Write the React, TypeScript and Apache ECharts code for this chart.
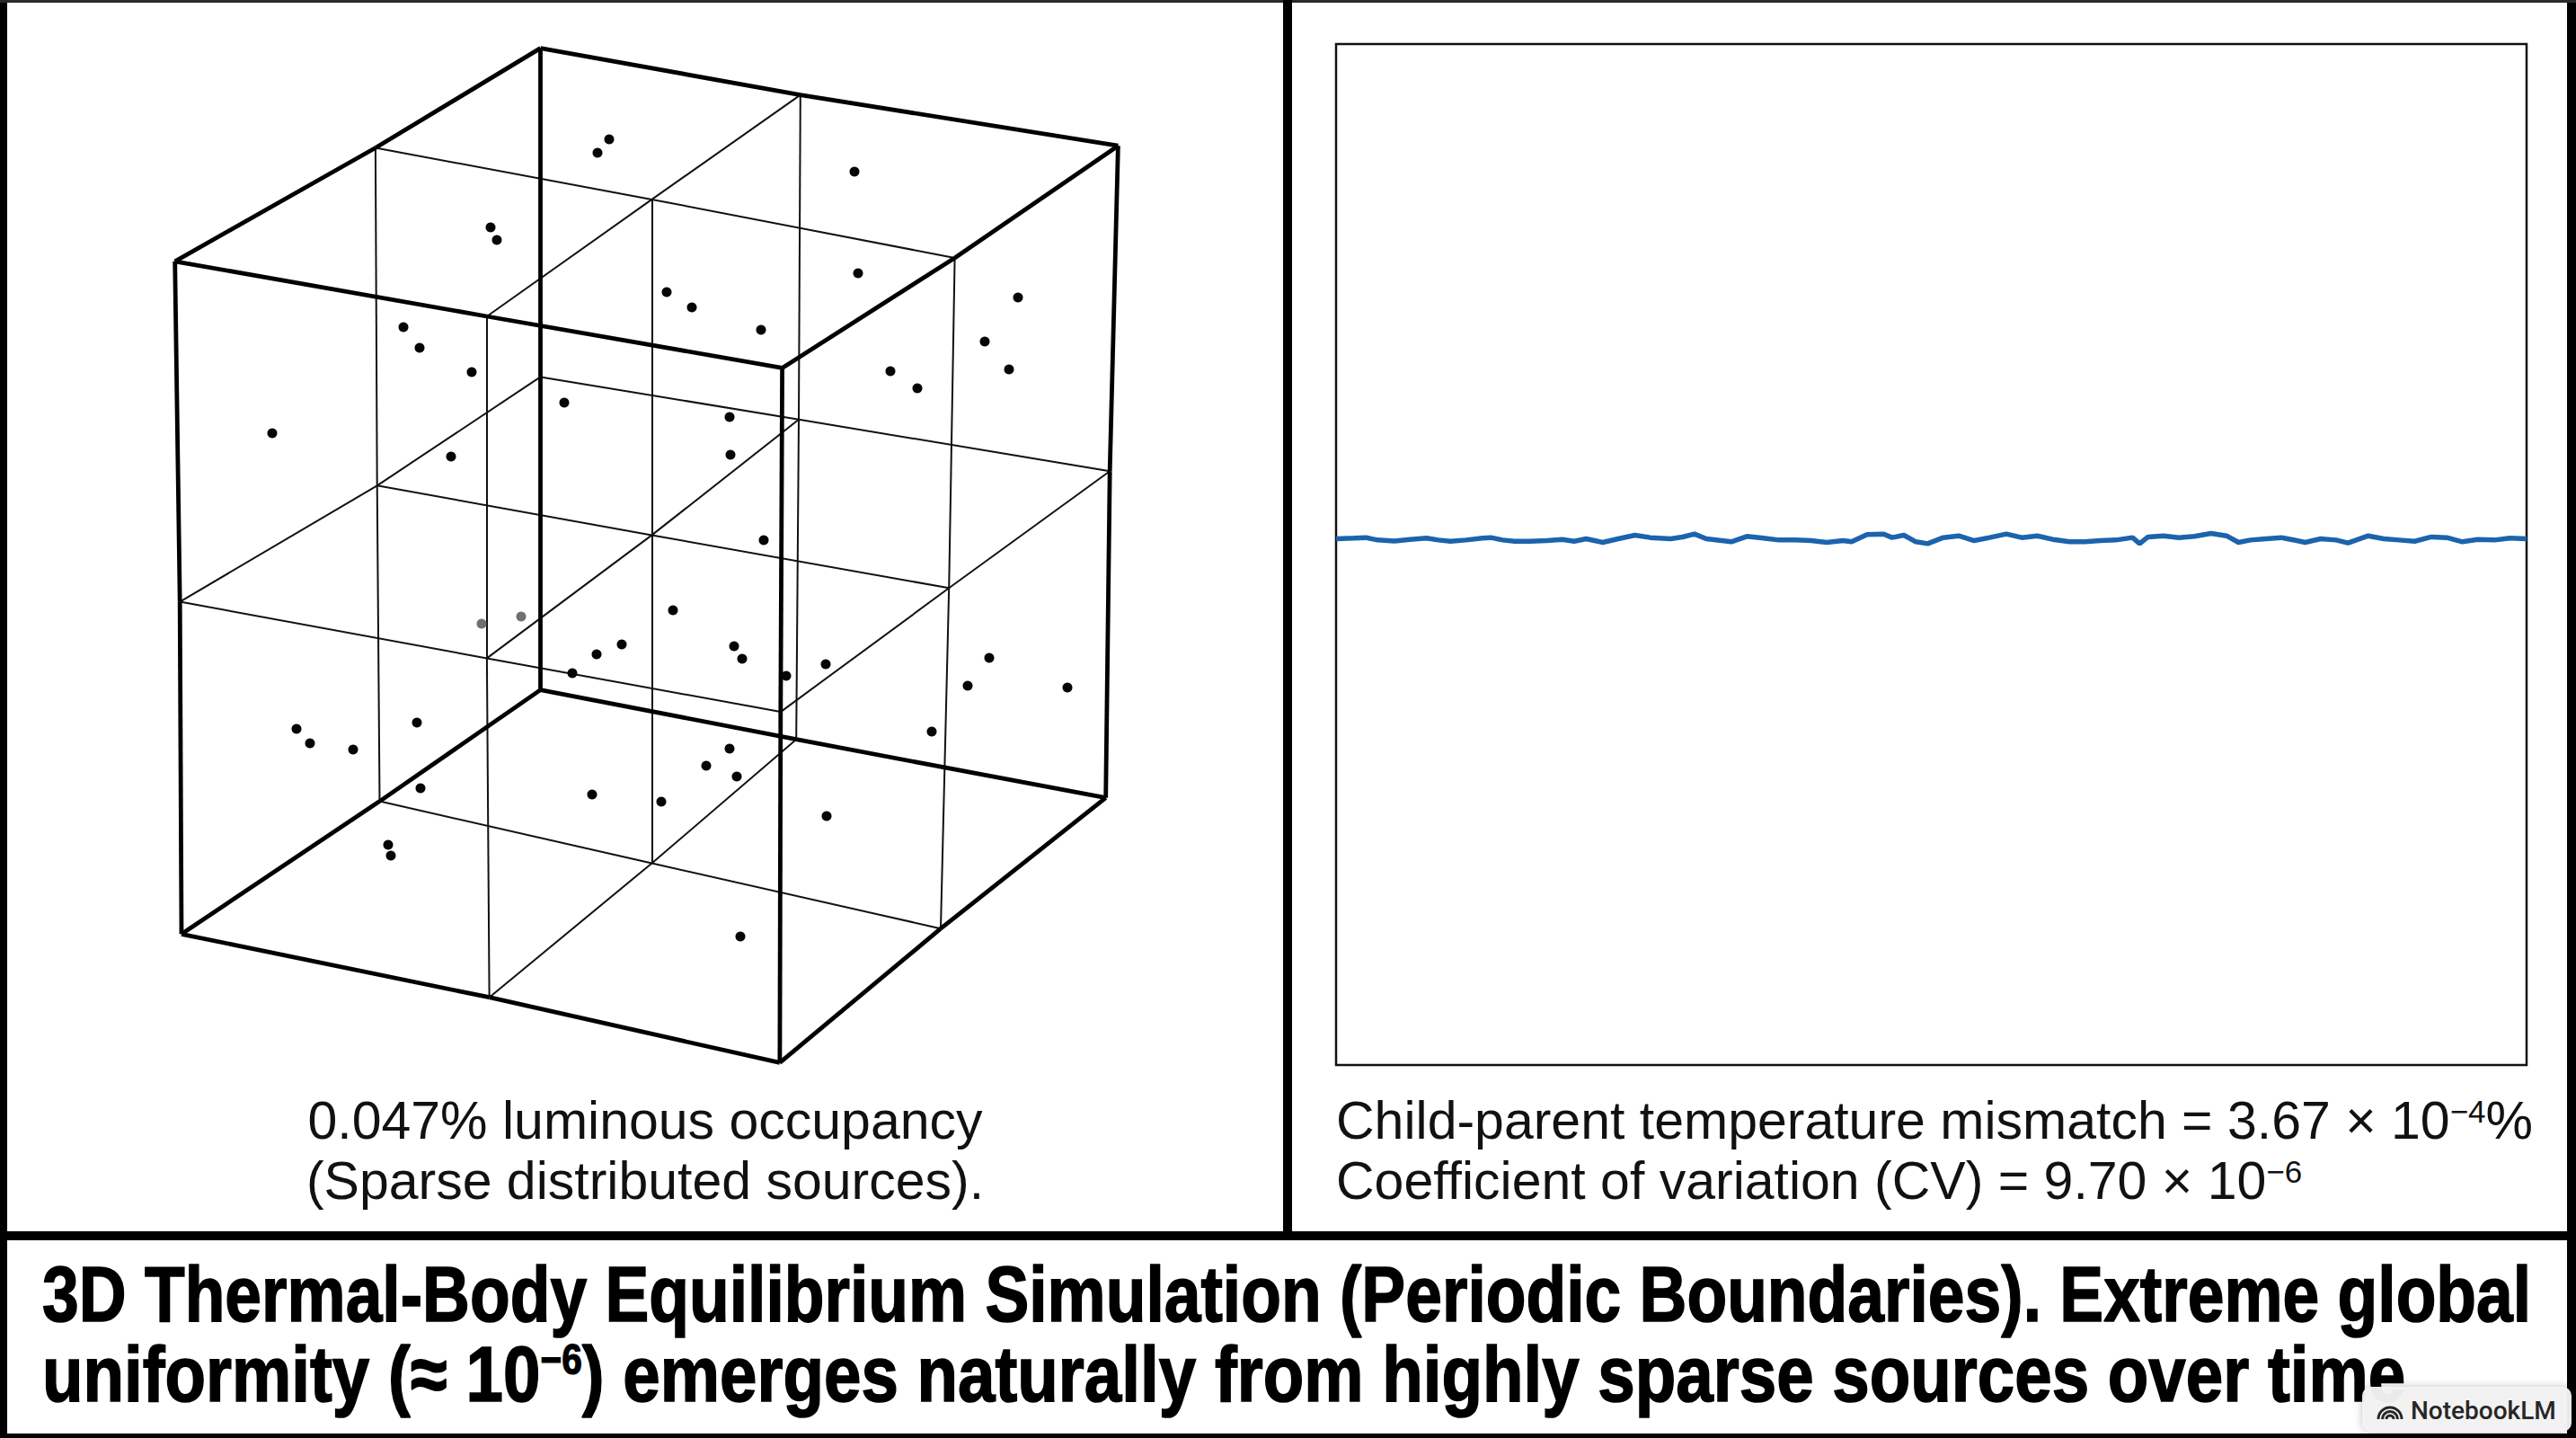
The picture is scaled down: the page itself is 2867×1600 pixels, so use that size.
import React, { useEffect, useRef } from "react";
import * as echarts from "echarts";

const W = 2867;
const H = 1600;

// ---- Left panel: projected lattice of the 2x2x2 periodic box (screen px), [z][depth][x]
const cubeNodes: number[][][][] = [
  [
    [[202.0, 1039.3], [544.6, 1109.7], [867.9, 1182.4]],
    [[422.5, 891.6], [725.5, 960.5], [1047.0, 1033.2]],
    [[601.5, 767.6], [886.2, 822.7], [1230.7, 887.7]],
  ],
  [
    [[200.2, 669.6], [541.9, 732.4], [868.8, 792.1]],
    [[419.7, 540.3], [725.5, 595.4], [1056.2, 654.3]],
    [[601.5, 419.4], [889.0, 466.8], [1235.2, 524.2]],
  ],
  [
    [[194.7, 290.8], [541.9, 352.0], [870.6, 409.4]],
    [[417.9, 164.5], [725.5, 221.9], [1062.6, 287.0]],
    [[601.5, 53.6], [890.8, 105.6], [1244.4, 162.2]],
  ],
];

// Luminous sources (projected screen positions)
const sourceX = [678, 665, 951, 546, 553, 955, 742, 770, 847, 1133, 1096, 1123, 449, 467, 525, 991, 1021, 628, 812, 813, 502, 303, 850, 536, 580, 749, 692, 664, 817, 826, 637, 875, 919, 1101, 1077, 1188, 330, 345, 393, 464, 1037, 812, 786, 820, 468, 659, 736, 920, 432, 435, 824];
const sourceY = [155, 170, 191, 253, 267, 304, 325, 342, 367, 331, 380, 411, 364, 387, 414, 413, 432, 448, 464, 506, 508, 482, 601, 694, 686, 679, 717, 728, 719, 733, 749, 752, 739, 732, 763, 765, 811, 827, 834, 804, 814, 833, 852, 864, 877, 884, 892, 908, 940, 952, 1042];
const sourceFaint = [23, 24];

// ---- Right panel: mean temperature trace (relative units)
const timeSteps = [0, 15, 25, 35, 49, 62, 76, 86, 96, 109, 123, 130, 140, 150, 163, 177, 190, 200, 210, 224, 237, 251, 264, 281, 291, 301, 311, 332, 345, 359, 372, 386, 399, 412, 426, 433, 446, 460, 467, 477, 487, 497, 510, 523, 536, 549, 563, 576, 589, 602, 616, 629, 642, 655, 669, 675, 682, 695, 708, 721, 735, 748, 758, 768, 781, 794, 807, 814, 827, 840, 850, 867, 880, 893, 906, 920, 933, 946, 959, 973, 986, 1000];
const meanTemp = [51.54, 51.60, 51.66, 51.42, 51.33, 51.48, 51.60, 51.42, 51.30, 51.42, 51.60, 51.66, 51.42, 51.30, 51.30, 51.36, 51.48, 51.30, 51.54, 51.19, 51.54, 51.89, 51.66, 51.54, 51.72, 52.01, 51.54, 51.25, 51.78, 51.60, 51.42, 51.42, 51.36, 51.19, 51.36, 51.25, 51.95, 52.01, 51.66, 51.89, 51.25, 51.07, 51.66, 51.83, 51.36, 51.66, 52.01, 51.66, 51.83, 51.48, 51.25, 51.25, 51.36, 51.42, 51.66, 51.07, 51.72, 51.83, 51.66, 51.78, 52.07, 51.83, 51.19, 51.42, 51.54, 51.66, 51.36, 51.19, 51.54, 51.42, 51.13, 51.83, 51.54, 51.42, 51.30, 51.72, 51.66, 51.25, 51.48, 51.42, 51.60, 51.54];

// ---- Texts
const leftCaption = ["0.047% luminous occupancy", "(Sparse distributed sources)."];
const rightCaption1 = ["Child-parent temperature mismatch = 3.67 × 10", "−4", "%"];
const rightCaption2 = ["Coefficient of variation (CV) = 9.70 × 10", "−6"];
const titleLine1 = "3D Thermal-Body Equilibrium Simulation (Periodic Boundaries). Extreme global";
const titleLine2 = ["uniformity (≈ 10", "−6", ") emerges naturally from highly sparse sources over time"];
const watermark = "NotebookLM";

function buildSegments() {
  const thick: number[][][] = [];
  const thin: number[][][] = [];
  const edge = (a: number, b: number) => a !== 1 && b !== 1;
  for (let k = 0; k < 3; k++)
    for (let j = 0; j < 3; j++)
      for (let i = 0; i < 3; i++) {
        const p = cubeNodes[k][j][i];
        if (i < 2) (edge(j, k) ? thick : thin).push([p, cubeNodes[k][j][i + 1]]);
        if (j < 2) (edge(i, k) ? thick : thin).push([p, cubeNodes[k][j + 1][i]]);
        if (k < 2) (edge(i, j) ? thick : thin).push([p, cubeNodes[k + 1][j][i]]);
      }
  return { thick, thin };
}

export default function App() {
  const ref = useRef<HTMLDivElement>(null);
  useEffect(() => {
    const chart = echarts.init(ref.current!, null, { renderer: "svg", width: W, height: H });
    const ctx = document.createElement("canvas").getContext("2d")!;
    const TITLE_SIZE = 88;
    const SUP_SIZE = 48;
    ctx.font = `bold ${TITLE_SIZE}px "Liberation Sans"`;
    const w1 = ctx.measureText(titleLine1).width;
    const w2a = ctx.measureText(titleLine2[0]).width + ctx.measureText(titleLine2[2]).width;
    ctx.font = `bold ${SUP_SIZE}px "Liberation Sans"`;
    const w2 = w2a + ctx.measureText(titleLine2[1]).width;
    const titleScale1 = 2770 / w1;
    const titleScale2 = 2631 / w2;

    const { thick, thin } = buildSegments();
    const bright = sourceX.map((x, i) => [x, sourceY[i]]).filter((_, i) => !sourceFaint.includes(i));
    const faint = sourceFaint.map((i) => [sourceX[i], sourceY[i]]);

    const capFont = "Liberation Sans";
    const capRich = {
      n: { fontSize: 59, fontFamily: capFont, fill: "#111", lineHeight: 57 },
      s: { fontSize: 35, fontFamily: capFont, fill: "#111", lineHeight: 35, verticalAlign: "top" },
    };
    const titleRich = {
      t: { fontSize: TITLE_SIZE, fontWeight: "bold", fontFamily: capFont, fill: "#000", stroke: "#000", lineWidth: 1.6, lineHeight: 80 },
      s: { fontSize: SUP_SIZE, fontWeight: "bold", fontFamily: capFont, fill: "#000", stroke: "#000", lineWidth: 1.2, lineHeight: SUP_SIZE, verticalAlign: "top" },
    };

    const option: any = {
      animation: false,
      backgroundColor: "#ffffff",
      grid: [
        { left: 0, top: 0, width: 1433, height: 1371, show: false },
        { left: 1487, top: 49, width: 1325, height: 1136, show: true, borderColor: "#111", borderWidth: 2.5, backgroundColor: "transparent" },
      ],
      xAxis: [
        { type: "value", gridIndex: 0, min: 0, max: 1433, show: false },
        { type: "value", gridIndex: 1, min: 0, max: 1000, show: false },
      ],
      yAxis: [
        { type: "value", gridIndex: 0, min: 0, max: 1371, inverse: true, show: false },
        { type: "value", gridIndex: 1, min: 0, max: 100, show: false },
      ],
      series: [
        {
          type: "lines", coordinateSystem: "cartesian2d", xAxisIndex: 0, yAxisIndex: 0, silent: true, z: 2,
          data: thin.map((c) => ({ coords: c })),
          lineStyle: { color: "#111", width: 2, opacity: 1, curveness: 0 },
        },
        {
          type: "lines", coordinateSystem: "cartesian2d", xAxisIndex: 0, yAxisIndex: 0, silent: true, z: 3,
          data: thick.map((c) => ({ coords: c })),
          lineStyle: { color: "#000", width: 4.8, opacity: 1, curveness: 0 },
        },
        {
          type: "scatter", xAxisIndex: 0, yAxisIndex: 0, z: 4, silent: true,
          data: bright, symbol: "circle", symbolSize: 11, itemStyle: { color: "#050505", opacity: 1 },
        },
        {
          type: "scatter", xAxisIndex: 0, yAxisIndex: 0, z: 4, silent: true,
          data: faint, symbol: "circle", symbolSize: 11, itemStyle: { color: "#707070", opacity: 1 },
        },
        {
          type: "line", xAxisIndex: 1, yAxisIndex: 1, z: 5, silent: true,
          data: timeSteps.map((t, i) => [t, meanTemp[i]]),
          showSymbol: false, symbol: "none",
          lineStyle: { color: "#1c63ad", width: 5.5 },
        },
      ],
      graphic: [
        // frame & dividers
        { type: "rect", z: 50, shape: { x: 0, y: 0, width: 8, height: H }, style: { fill: "#000" } },
        { type: "rect", z: 50, shape: { x: W - 10, y: 0, width: 10, height: H }, style: { fill: "#000" } },
        { type: "rect", z: 50, shape: { x: 0, y: 0, width: W, height: 3 }, style: { fill: "#2a2a2a" } },
        { type: "rect", z: 50, shape: { x: 0, y: H - 5, width: W, height: 5 }, style: { fill: "#000" } },
        { type: "rect", z: 50, shape: { x: 1428, y: 0, width: 10, height: 1375 }, style: { fill: "#000" } },
        { type: "rect", z: 50, shape: { x: 0, y: 1370, width: W, height: 10 }, style: { fill: "#000" } },
        // left caption
        { type: "text", z: 50, x: 718, y: 1247, style: { text: leftCaption[0], fontSize: 59, fontFamily: capFont, fill: "#111", align: "center", verticalAlign: "middle" } },
        { type: "text", z: 50, x: 718, y: 1314, style: { text: leftCaption[1], fontSize: 59, fontFamily: capFont, fill: "#111", align: "center", verticalAlign: "middle" } },
        // right caption
        {
          type: "text", z: 50, x: 1487, y: 1247,
          style: { text: `{n|${rightCaption1[0]}}{s|${rightCaption1[1]}}{n|${rightCaption1[2]}}`, rich: capRich, fill: "#111", fontSize: 59, fontFamily: capFont, align: "left", verticalAlign: "middle" },
        },
        {
          type: "text", z: 50, x: 1487, y: 1314,
          style: { text: `{n|${rightCaption2[0]}}{s|${rightCaption2[1]}}`, rich: capRich, fill: "#111", fontSize: 59, fontFamily: capFont, align: "left", verticalAlign: "middle" },
        },
        // title
        {
          type: "text", z: 50, x: 47, y: 1440, scaleX: titleScale1,
          style: { text: titleLine1, fontSize: TITLE_SIZE, fontWeight: "bold", fontFamily: capFont, fill: "#000", stroke: "#000", lineWidth: 1.6, align: "left", verticalAlign: "middle" },
        },
        {
          type: "text", z: 50, x: 47, y: 1528, scaleX: titleScale2,
          style: { text: `{t|${titleLine2[0]}}{s|${titleLine2[1]}}{t|${titleLine2[2]}}`, rich: titleRich, fill: "#000", fontSize: TITLE_SIZE, fontWeight: "bold", fontFamily: capFont, align: "left", verticalAlign: "middle" },
        },
        // watermark
        {
          type: "rect", z: 100,
          shape: { x: 2629, y: 1543, width: 233, height: 50, r: 10 },
          style: { fill: "rgba(242,242,242,0.96)", shadowBlur: 10, shadowColor: "rgba(0,0,0,0.25)" },
        },
        { type: "arc", z: 101, shape: { cx: 2660, cy: 1579, r: 13, startAngle: Math.PI, endAngle: Math.PI * 2, clockwise: true }, style: { stroke: "#262626", lineWidth: 3, fill: "none" } },
        { type: "arc", z: 101, shape: { cx: 2660, cy: 1579, r: 8.5, startAngle: Math.PI, endAngle: Math.PI * 2, clockwise: true }, style: { stroke: "#262626", lineWidth: 3, fill: "none" } },
        { type: "arc", z: 101, shape: { cx: 2660, cy: 1579, r: 4, startAngle: Math.PI, endAngle: Math.PI * 2, clockwise: true }, style: { stroke: "#262626", lineWidth: 3, fill: "none" } },
        { type: "text", z: 101, x: 2683, y: 1569, style: { text: watermark, fontSize: 28, fontWeight: 500, fontFamily: "Roboto", fill: "#262626", align: "left", verticalAlign: "middle" } },
      ],
    };
    chart.setOption(option);
    return () => chart.dispose();
  }, []);
  return <div ref={ref} style={{ position: "absolute", left: 0, top: 0, width: W, height: H }} />;
}
